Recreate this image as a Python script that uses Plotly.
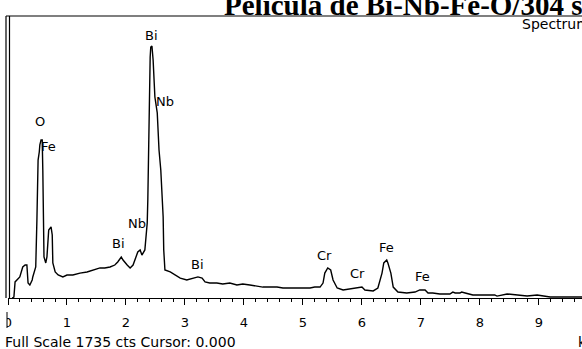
import plotly.graph_objects as go

# Spectrum (energy in keV, counts)
energy_kev = [0.07, 0.10, 0.12, 0.17, 0.20, 0.25, 0.29, 0.32, 0.34, 0.37, 0.41, 0.42, 0.47, 0.49,
              0.51, 0.53, 0.54, 0.56, 0.58, 0.59, 0.60, 0.61, 0.64, 0.66, 0.69, 0.73, 0.75, 0.76,
              0.80, 0.85, 0.93, 1.00, 1.10, 1.22, 1.34, 1.44, 1.56, 1.64, 1.73, 1.81, 1.86, 1.92,
              1.95, 2.02, 2.07, 2.12, 2.17, 2.20, 2.24, 2.27, 2.32, 2.34, 2.36, 2.37, 2.38, 2.40,
              2.41, 2.42, 2.44, 2.46, 2.47, 2.49, 2.53, 2.54, 2.56, 2.59, 2.61, 2.63, 2.64, 2.66,
              2.75, 2.83, 2.92, 3.03, 3.14, 3.22, 3.29, 3.34, 3.42, 3.54, 3.64, 3.76, 3.88, 3.98,
              4.10, 4.22, 4.32, 4.44, 4.56, 4.66, 4.78, 4.90, 5.00, 5.12, 5.20, 5.29, 5.34, 5.37,
              5.42, 5.47, 5.51, 5.58, 5.68, 5.80, 5.92, 6.00, 6.05, 6.19, 6.27, 6.34, 6.37, 6.42,
              6.44, 6.49, 6.53, 6.61, 6.76, 6.90, 6.98, 7.07, 7.12, 7.20, 7.32, 7.49, 7.54, 7.58,
              7.66, 7.69, 7.75, 7.88, 8.25, 8.29, 8.46, 8.63, 8.80, 8.97, 9.19, 9.36, 9.64, 9.73]
counts = [0, 6, 100, 118, 131, 193, 205, 205, 93, 81, 112, 131, 193, 485,
          858, 908, 952, 983, 983, 796, 423, 255, 218, 255, 423, 442, 392, 218,
          162, 143, 131, 143, 143, 155, 162, 174, 187, 187, 193, 205, 224, 255,
          236, 205, 187, 205, 249, 286, 299, 267, 299, 379, 466, 609, 877, 1231,
          1499, 1561, 1567, 1480, 1356, 1250, 1151, 1026, 920, 796, 672, 504, 299, 174,
          162, 143, 124, 112, 124, 131, 124, 100, 93, 93, 87, 93, 81, 87,
          81, 75, 68, 68, 68, 62, 62, 62, 62, 62, 68, 68, 93, 155,
          187, 174, 112, 62, 50, 56, 62, 68, 50, 44, 62, 155, 218, 236,
          218, 155, 68, 37, 31, 37, 50, 50, 31, 31, 25, 25, 37, 31,
          31, 37, 31, 19, 19, 12, 25, 19, 12, 19, 6, 6, 6, 6]

# Peak identification labels
peak_names = ["O", "Fe", "Bi", "Nb", "Nb", "Bi", "Bi", "Cr", "Cr", "Fe", "Fe"]
peak_energy = [0.54, 0.69, 2.44, 2.66, 2.19, 1.88, 3.22, 5.37, 5.92, 6.42, 7.03]
peak_label_counts = [1095, 945, 1630, 1225, 466, 336, 211, 267, 155, 317, 131]

full_scale = 1735
x_max = 9.73
title_text = "<b>Pelicula de Bi-Nb-Fe-O/304 s</b>"
footer_text = "Full Scale 1735 cts Cursor: 0.000"

W, H = 582, 349
L, R, T, B = 8, 0, 19, 51
pw, ph = W - L - R, H - T - B


def px(xp):
    return (xp - L) / pw


def py(yp):
    return (H - B - yp) / ph


sans = "DejaVu Sans"

fig = go.Figure()
fig.add_trace(go.Scatter(x=energy_kev, y=counts, mode="lines",
                         line=dict(color="black", width=1.4), hoverinfo="skip"))

for name, e, c in zip(peak_names, peak_energy, peak_label_counts):
    fig.add_annotation(x=e, y=c, text=name, showarrow=False,
                       font=dict(family=sans, size=13, color="black"))

# title (clipped at the top)
fig.add_annotation(xref="paper", yref="paper", x=px(222), y=py(23), xanchor="left", yanchor="bottom",
                   text=title_text, showarrow=False,
                   font=dict(family="Liberation Serif", size=29, color="black"))
fig.add_annotation(xref="paper", yref="paper", x=px(520), y=py(24), xanchor="left", yanchor="middle",
                   text="Spectrum 1", showarrow=False,
                   font=dict(family=sans, size=14, color="black"))
fig.add_annotation(xref="paper", yref="paper", x=px(3), y=py(342), xanchor="left", yanchor="middle",
                   text=footer_text, showarrow=False,
                   font=dict(family=sans, size=14, color="black"))
fig.add_annotation(xref="paper", yref="paper", x=px(576), y=py(342), xanchor="left", yanchor="middle",
                   text="keV", showarrow=False,
                   font=dict(family=sans, size=14, color="black"))

shapes = [
    dict(type="line", xref="paper", yref="paper", x0=px(6), x1=px(582), y0=py(16), y1=py(16),
         line=dict(color="black", width=1.2)),
    dict(type="line", xref="paper", yref="paper", x0=px(6), x1=px(6), y0=py(16), y1=py(298),
         line=dict(color="black", width=1.2)),
    dict(type="line", xref="paper", yref="paper", x0=px(9.5), x1=px(9.5), y0=py(16), y1=py(298),
         line=dict(color="black", width=1.2)),
    dict(type="rect", xref="paper", yref="paper", x0=px(0), x1=px(7), y0=py(310), y1=py(330),
         fillcolor="white", line=dict(width=0), layer="above"),
    dict(type="line", xref="paper", yref="paper", x0=px(7), x1=px(7), y0=py(312), y1=py(328),
         line=dict(color="black", width=1)),
]

fig.update_layout(
    width=W, height=H, margin=dict(l=L, r=R, t=T, b=B),
    paper_bgcolor="white", plot_bgcolor="white", showlegend=False,
    shapes=shapes,
    xaxis=dict(range=[0, x_max], showgrid=False, zeroline=False, showline=True,
               linecolor="black", linewidth=1, ticks="outside", ticklen=6, tickwidth=1,
               tickcolor="black", tickmode="linear", tick0=0, dtick=1,
               tickfont=dict(family=sans, size=13, color="black"), ticklabelstandoff=6,
               minor=dict(tickmode="linear", tick0=0, dtick=0.2, ticks="outside", ticklen=3,
                          tickwidth=1, tickcolor="black")),
    yaxis=dict(range=[0, full_scale], visible=False, fixedrange=True),
)

fig.write_html("out.html", config={"displayModeBar": False, "staticPlot": True},
               post_script="document.body.style.margin='0px';document.body.style.overflow='hidden';")
